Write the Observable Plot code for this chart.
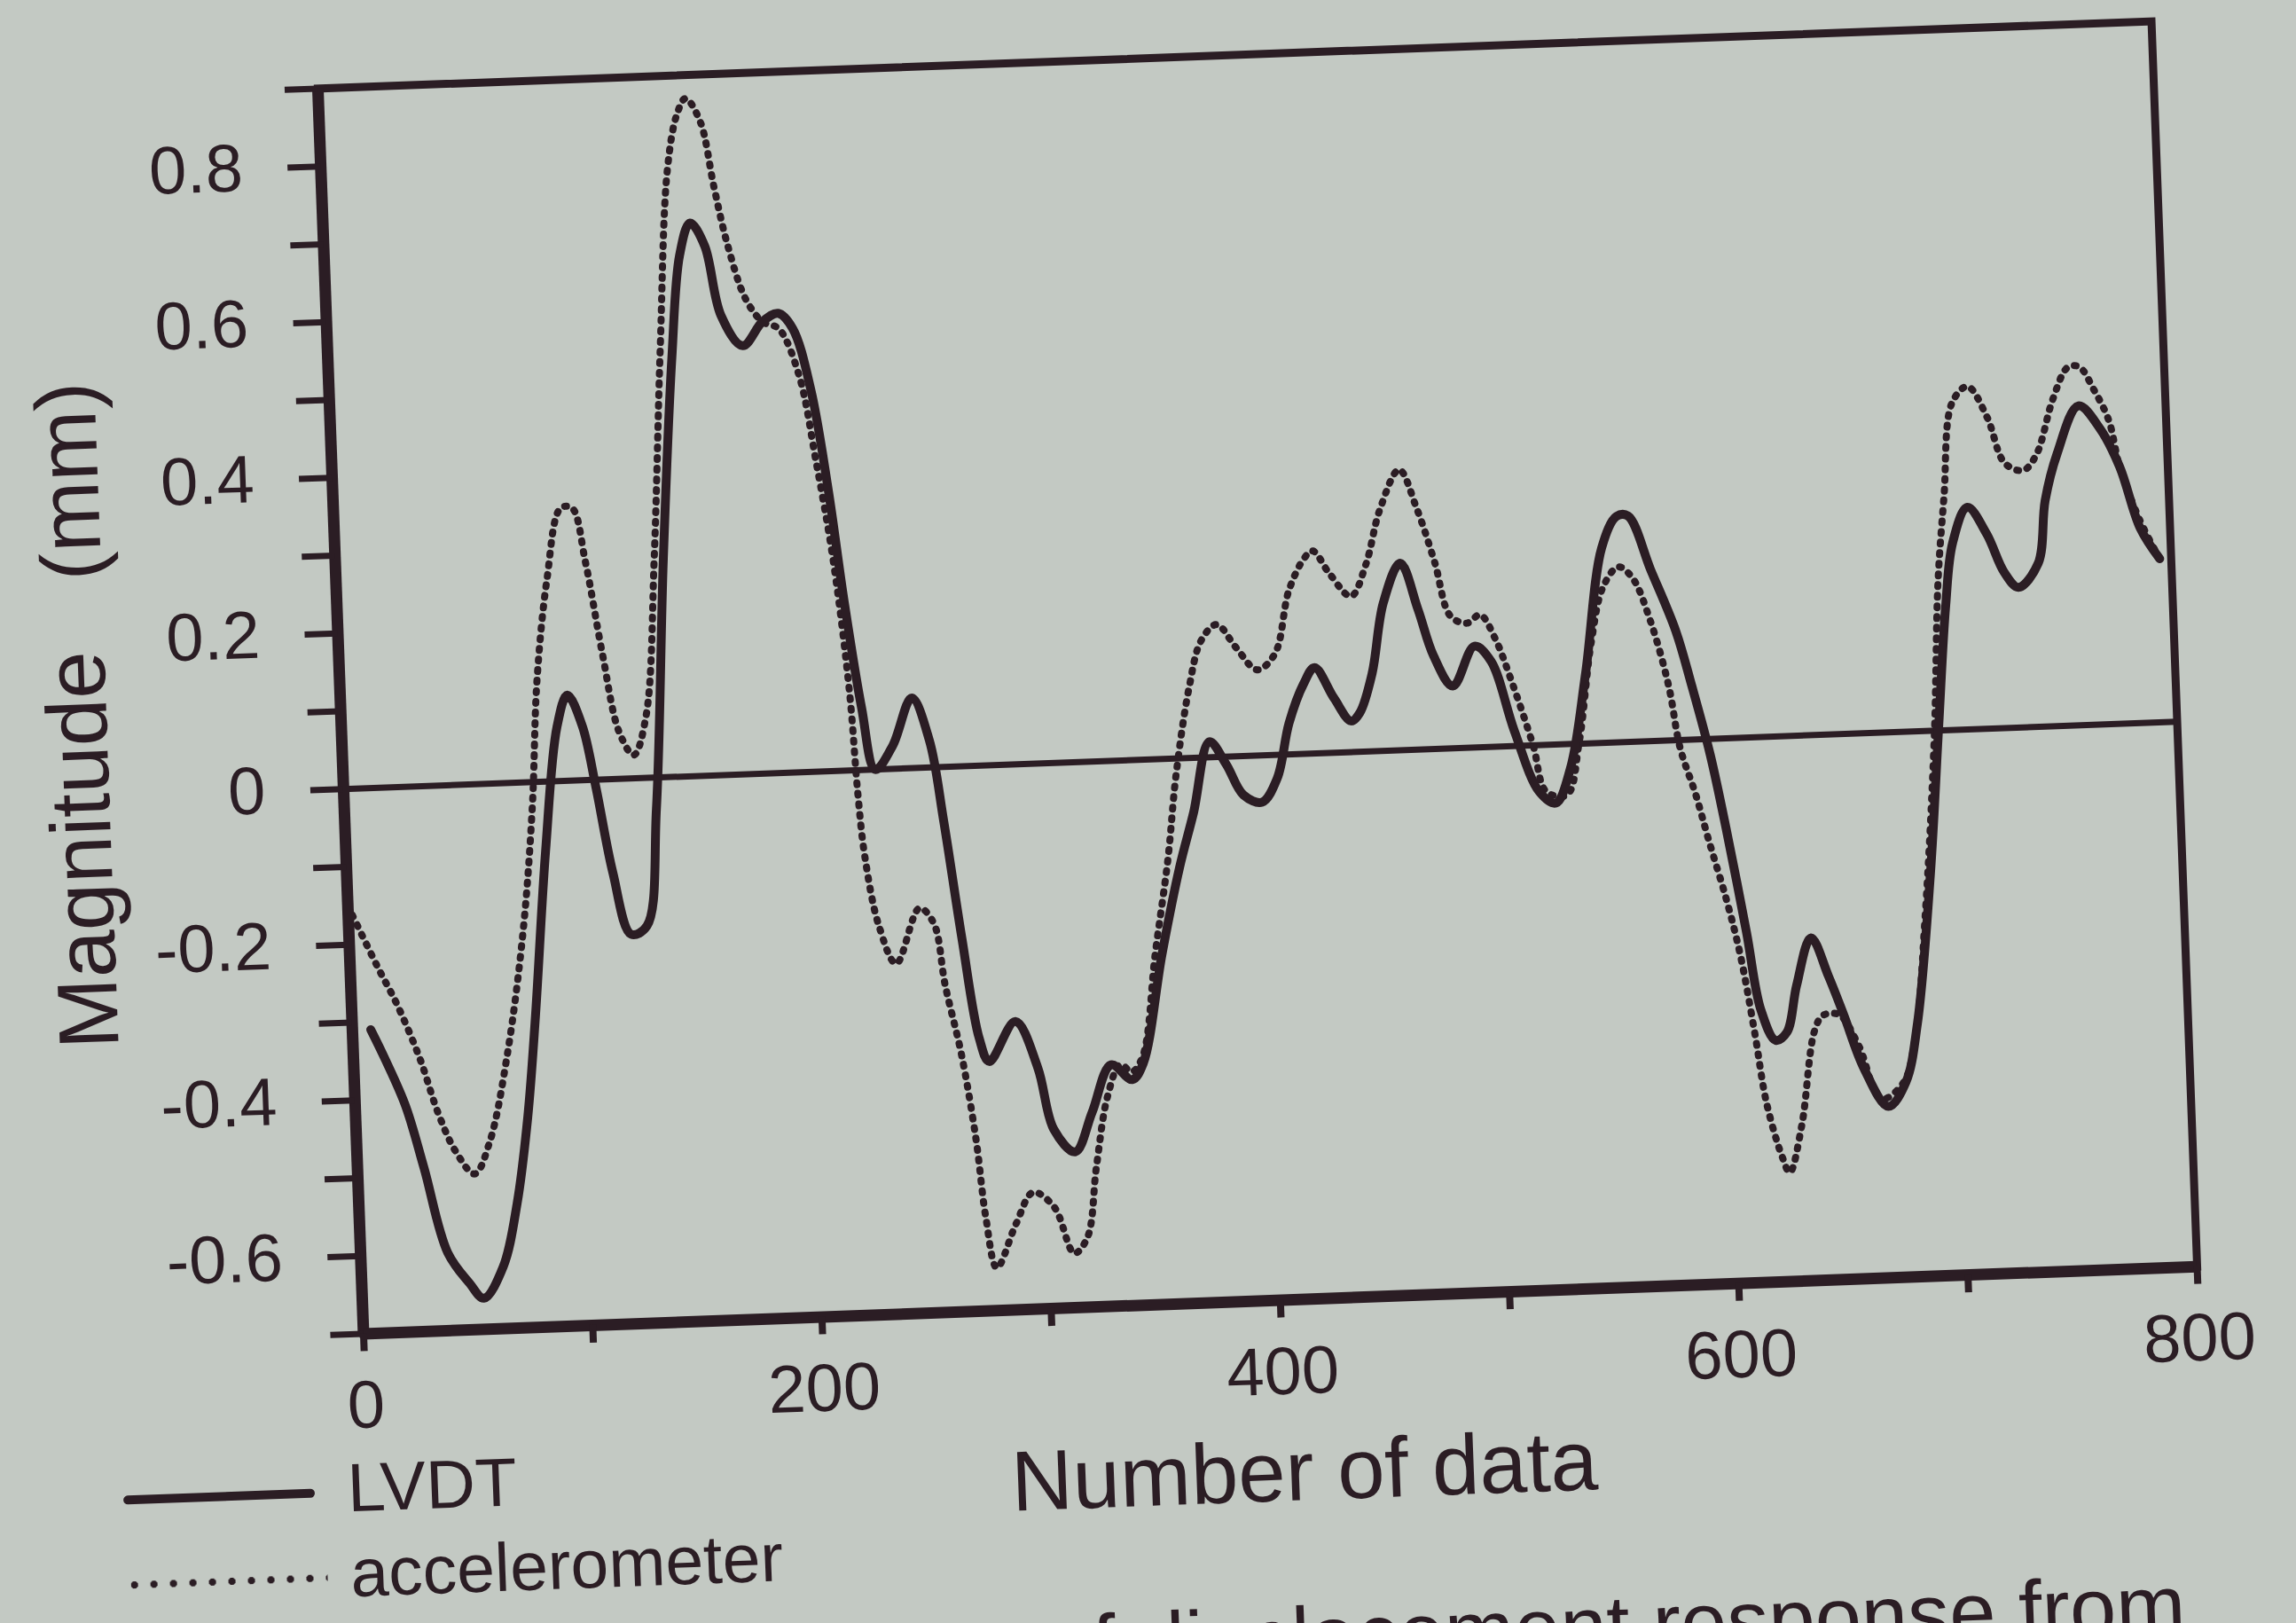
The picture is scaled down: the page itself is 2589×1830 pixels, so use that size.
<!DOCTYPE html>
<html>
<head>
<meta charset="utf-8">
<script src="https://cdn.jsdelivr.net/npm/d3@7"></script>
<script src="https://cdn.jsdelivr.net/npm/@observablehq/plot@0.6"></script>
<style>
  html, body { margin: 0; padding: 0; width: 2589px; height: 1830px; overflow: hidden; background: #c3c9c3; }
  #page { position: absolute; left: 0; top: 0; width: 2589px; height: 1830px;
          transform-origin: 1418px 764px; transform: rotate(-2.1deg);
          font-family: "Liberation Sans", Arial, sans-serif; color: #2b1d24; }
  #chart { position: absolute; left: 0; top: 0; }
  .legline { position: absolute; }
  .legtext { position: absolute; font-size: 77px; line-height: 77px; white-space: nowrap; }
  #caption { position: absolute; left: 1140px; top: 1800px; font-size: 94px; line-height: 94px; white-space: nowrap; }
</style>
</head>
<body>
<div id="page">
  <div id="chart"></div>
  <div class="legline" id="legSolid"></div>
  <div class="legtext" id="legSolidText"></div>
  <div class="legline" id="legDot"></div>
  <div class="legtext" id="legDotText"></div>
  <div id="caption"></div>
</div>
<script>
// ---- data ----
const lvdtX = [8,14,22,29,38,47,53,62,69,75,80,87,94,99,105,110,116,123,130,136,143,150,155,160,166,172,181,190,197,203,210,216,221,227,232,240,249,256,261,267,273,277,289,298,304,313,321,330,339,344,354,363,370,378,385,392,400,407,413,420,425,433,440,444,450,456,464,471,477,485,495,502,511,521,528,535,543,552,559,564,573,583,589,596,602,609,614,620,625,630,637,644,650,658,668,676,682,690,696,701,705,712,720,727,733,742,746,752,762,771,779,787,795];
const lvdtY = [-0.31,-0.35,-0.41,-0.49,-0.60,-0.64,-0.66,-0.62,-0.54,-0.43,-0.30,-0.09,0.07,0.11,0.07,-0.01,-0.12,-0.20,-0.19,-0.04,0.28,0.54,0.67,0.71,0.68,0.59,0.55,0.58,0.59,0.57,0.49,0.36,0.22,0.08,0.00,0.03,0.09,0.035,-0.07,-0.22,-0.35,-0.38,-0.33,-0.39,-0.47,-0.50,-0.45,-0.39,-0.41,-0.39,-0.25,-0.14,-0.07,0.02,-0.01,-0.05,-0.06,-0.03,0.04,0.09,0.11,0.07,0.04,0.05,0.10,0.19,0.24,0.18,0.12,0.08,0.13,0.11,0.02,-0.06,-0.075,-0.03,0.09,0.25,0.29,0.29,0.22,0.14,0.07,-0.02,-0.12,-0.25,-0.35,-0.39,-0.38,-0.32,-0.26,-0.31,-0.36,-0.43,-0.48,-0.45,-0.375,-0.185,0.005,0.16,0.24,0.285,0.25,0.20,0.18,0.21,0.29,0.35,0.41,0.38,0.33,0.25,0.21];

const accX = [0,12,20,29,36,43,51,58,67,76,82,86,92,99,104,109,115,121,127,133,139,145,151,156,160,166,171,176,183,190,197,205,211,217,222,224,226,231,238,249,255,259,265,270,273,277,286,294,303,311,317,322,328,334,339,344,351,358,363,370,376,383,391,400,408,415,422,426,433,442,449,456,465,472,479,485,492,498,504,511,519,524,533,539,546,552,559,565,572,579,583,589,594,601,606,611,615,621,624,630,637,641,648,656,665,675,681,687,694,698,702,707,714,722,729,737,743,751,758,763,769,775,779,787,795];
const accY = [-0.15,-0.23,-0.28,-0.35,-0.42,-0.47,-0.50,-0.46,-0.35,-0.19,-0.03,0.13,0.26,0.35,0.35,0.28,0.16,0.06,0.03,0.08,0.28,0.55,0.78,0.85,0.87,0.84,0.755,0.68,0.61,0.58,0.57,0.51,0.40,0.27,0.10,-0.03,-0.11,-0.20,-0.25,-0.18,-0.20,-0.28,-0.37,-0.48,-0.58,-0.645,-0.59,-0.55,-0.57,-0.63,-0.61,-0.52,-0.43,-0.39,-0.40,-0.38,-0.25,-0.13,-0.02,0.09,0.15,0.17,0.14,0.11,0.13,0.21,0.25,0.26,0.23,0.20,0.24,0.31,0.36,0.31,0.24,0.17,0.16,0.17,0.14,0.08,0.00,-0.06,-0.065,0.00,0.13,0.20,0.225,0.21,0.155,0.07,-0.01,-0.07,-0.13,-0.21,-0.28,-0.38,-0.47,-0.54,-0.56,-0.50,-0.38,-0.36,-0.36,-0.40,-0.47,-0.45,-0.39,-0.24,-0.005,0.19,0.30,0.42,0.44,0.40,0.34,0.33,0.35,0.42,0.46,0.46,0.43,0.39,0.33,0.26,0.21];

const xTicks = [0,100,200,300,400,500,600,700,800];
const xTickLabels = [0,200,400,600,800];
const yTicks = [-0.7,-0.6,-0.5,-0.4,-0.3,-0.2,-0.1,0,0.1,0.2,0.3,0.4,0.5,0.6,0.7,0.8,0.9];
const yTickLabels = [-0.6,-0.4,-0.2,0,0.2,0.4,0.6,0.8];
const seriesNames = ["LVDT", "accelerometer"];
const xTitle = "Number of data";
const yTitle = "Magnitude\u00a0\u00a0 (mm)";
const captionText = "of displacement response from";

// ---- build tables ----
const lvdt = lvdtX.map((x, i) => ({x, y: lvdtY[i]}));
const acc = accX.map((x, i) => ({x, y: accY[i]}));

const ink = "#2b1d24";
const near = (arr, v) => arr.some(a => Math.abs(a - v) < 1e-9);
const fmtY = d => near(yTickLabels, d) ? (Math.abs(d) < 1e-9 ? "0" : d.toFixed(1)) : "";
const fmtX = d => near(xTickLabels, d) ? String(d) : "";

const chart = Plot.plot({
  width: 2589,
  height: 1740,
  marginLeft: 383,
  marginRight: 137,
  marginTop: 61,
  marginBottom: 274,
  style: `background: transparent; color: ${ink}; font-family: 'Liberation Sans', Arial, sans-serif; font-size: 76px; overflow: visible;`,
  x: {domain: [0, 800], label: null},
  y: {domain: [-0.7, 0.9], label: null},
  marks: [
    Plot.ruleY([0], {stroke: ink, strokeWidth: 7}),
    Plot.line(acc, {x: "x", y: "y", stroke: ink, strokeWidth: 8, strokeDasharray: "2 10", strokeLinecap: "round", curve: "catmull-rom"}),
    Plot.line(lvdt, {x: "x", y: "y", stroke: ink, strokeWidth: 10, strokeLinejoin: "round", strokeLinecap: "round", curve: "catmull-rom"}),
    Plot.frame({stroke: ink, strokeWidth: 9}),
    Plot.ruleX([0], {stroke: ink, strokeWidth: 13}),
    Plot.ruleY([-0.7], {stroke: ink, strokeWidth: 13}),
    Plot.axisY(yTicks, {tickSize: 37, tickPadding: 51, strokeWidth: 7, fontSize: 76, tickFormat: fmtY, label: null}),
    Plot.axisX(xTicks, {tickSize: 20, tickPadding: 32, strokeWidth: 8, fontSize: 76, tickFormat: fmtX, label: null}),
    Plot.text([yTitle], {text: d => d, frameAnchor: "left", textAnchor: "middle", rotate: -90, dx: -295, dy: -6, fontSize: 96, lineAnchor: "middle", fill: ink}),
    Plot.text([xTitle], {text: d => d, frameAnchor: "bottom", textAnchor: "middle", dx: 20, dy: 158, fontSize: 96, lineAnchor: "top", fill: ink})
  ]
});
document.getElementById("chart").appendChild(chart);

// ---- legend (below-left of the plot) ----
const ls = document.getElementById("legSolid");
Object.assign(ls.style, {left: "106px", top: "1639px", width: "216px", height: "10px", background: ink, borderRadius: "5px"});
const ld = document.getElementById("legDot");
Object.assign(ld.style, {left: "111px", top: "1736px", width: "222px", height: "8px",
  backgroundImage: `radial-gradient(circle at 4px 4px, ${ink} 3.8px, transparent 4.4px)`,
  backgroundSize: "22px 8px", backgroundRepeat: "repeat-x"});
const lt1 = document.getElementById("legSolidText");
lt1.textContent = seriesNames[0];
Object.assign(lt1.style, {left: "359px", top: "1601px"});
const lt2 = document.getElementById("legDotText");
lt2.textContent = seriesNames[1];
Object.assign(lt2.style, {left: "359px", top: "1697px"});
document.getElementById("caption").textContent = captionText;
</script>
</body>
</html>
